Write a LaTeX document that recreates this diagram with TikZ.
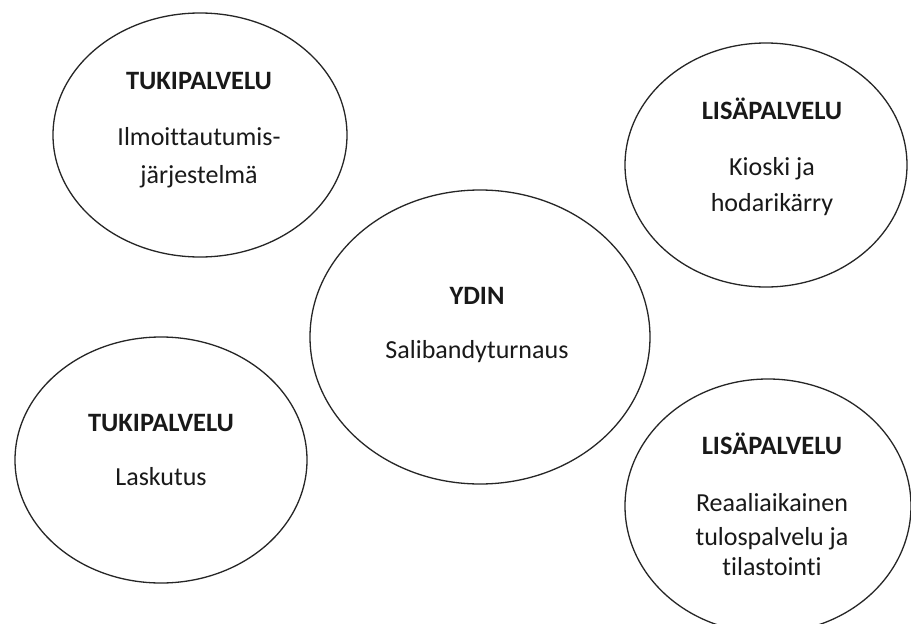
\documentclass[tikz,border=0pt]{standalone}
\usepackage{fontspec}
\setmainfont[Ligatures=NoCommon]{Carlito}
\usetikzlibrary{shapes.geometric}
\begin{document}
\begin{tikzpicture}[x=1pt,y=-1pt,
  bubble/.style={draw=black!85, line width=1.3pt, ellipse, inner sep=0pt},
  ttl/.style={anchor=base, inner sep=0pt, font=\fontsize{26.5}{30}\selectfont\bfseries, text=black!90},
  txt/.style={anchor=base, inner sep=0pt, font=\fontsize{26}{30}\selectfont, text=black!90}]
\useasboundingbox (0,0) rectangle (911,624);
\fill[white] (0,0) rectangle (911,624);
% ellipses
\node[bubble, minimum width=294pt, minimum height=244pt] (e1) at (200,135) {};
\node[bubble, minimum width=282pt, minimum height=244pt] (e2) at (766,165) {};
\node[bubble, minimum width=340pt, minimum height=294pt] (e3) at (480,337) {};
\node[bubble, minimum width=292pt, minimum height=246pt] (e4) at (161,460) {};
\node[bubble, minimum width=286pt, minimum height=254pt] (e5) at (768,506) {};
% texts
\node[ttl] (t1) at (199,89) {TUKIPALVELU};
\node[txt] (t1a) at (199,145) {Ilmoittautumis-};
\node[txt] (t1b) at (199,183) {järjestelmä};
\node[ttl] (t2) at (772,119) {LISÄPALVELU};
\node[txt] (t2a) at (772,175) {Kioski ja};
\node[txt] (t2b) at (772,211) {hodarikärry};
\node[ttl] (t3) at (477,304) {YDIN};
\node[txt] (t3a) at (477,358) {Salibandyturnaus};
\node[ttl] (t4) at (161,431) {TUKIPALVELU};
\node[txt] (t4a) at (161,485) {Laskutus};
\node[ttl] (t5) at (772,454) {LISÄPALVELU};
\node[txt] (t5a) at (772,511) {Reaaliaikainen};
\node[txt] (t5b) at (772,545) {tulospalvelu ja};
\node[txt] (t5c) at (772,575) {tilastointi};
\end{tikzpicture}
\end{document}
